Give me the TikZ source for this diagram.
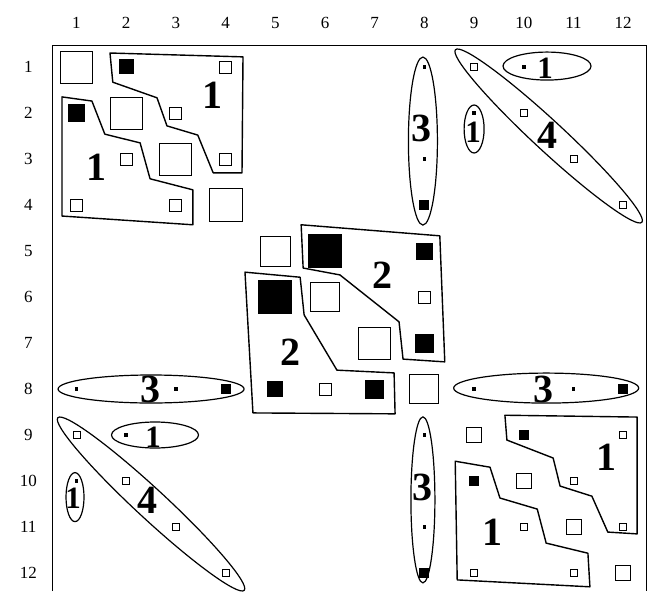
\documentclass[tikz,border=0pt]{standalone}
\usepackage{fontspec}
\setmainfont{Liberation Serif}
\begin{document}
\begin{tikzpicture}[x=49.7pt,y=-46pt,
    openSq/.style={draw=black,fill=white,line width=0.9pt,rectangle,inner sep=0pt,minimum size=#1},
    fullSq/.style={fill=black,rectangle,inner sep=0pt,minimum size=#1},
    dotPt/.style={fill=black,rectangle,inner sep=0pt,minimum size=3.5pt},
    groupLine/.style={line width=1.4pt,line join=round},
    ringLine/.style={line width=1.2pt},
    bigLabel/.style={font=\fontsize{40}{40}\selectfont\bfseries,inner sep=0pt},
    smallLabel/.style={font=\fontsize{31}{31}\selectfont\bfseries,inner sep=0pt},
    axisLabel/.style={font=\fontsize{17}{17}\selectfont,inner sep=0pt}]
    \def\frameTop{0.522}
    \def\frameBottom{12.3913}

    \useasboundingbox (-0.5392,-0.4565) rectangle (12.5593,12.3913);

    % Frame round the matrix
    \draw[line width=0.9pt] (0.507,\frameBottom) -- (0.507,\frameTop) -- (12.459,\frameTop) -- (12.459,\frameBottom);

    % Column and row numbers
    \foreach \c in {1,...,12}
        \node[axisLabel] (col\c) at (\c,0.043) {\c};
    \foreach \r in {1,...,12}
        \node[axisLabel] (row\r) at (0.03,\r) {\r};

    % Groups drawn as polygons
    \draw[groupLine] (1.674,0.696) -- (4.35,0.78) -- (4.33,3.30) -- (3.75,3.30) -- (3.44,2.48)
        -- (2.82,2.28) -- (2.62,1.67) -- (1.73,1.33) -- cycle;
    \draw[groupLine] (0.708,1.65) -- (1.31,1.74) -- (1.57,2.46) -- (2.28,2.65) -- (2.48,3.43)
        -- (3.34,3.67) -- (3.34,4.43) -- (0.708,4.24) -- cycle;
    \draw[groupLine] (5.52,4.43) -- (8.31,4.67) -- (8.41,7.41) -- (7.57,7.35) -- (7.49,6.54)
        -- (6.30,5.52) -- (5.56,5.37) -- cycle;
    \draw[groupLine] (4.39,5.46) -- (5.50,5.57) -- (5.58,6.39) -- (6.24,7.59) -- (7.39,7.65)
        -- (7.41,8.54) -- (4.55,8.52) -- cycle;
    \draw[groupLine] (9.62,8.57) -- (12.28,8.61) -- (12.28,11.15) -- (11.69,11.11) -- (11.37,10.33)
        -- (10.73,10.11) -- (10.59,9.50) -- (9.66,9.11) -- cycle;
    \draw[groupLine] (8.62,9.57) -- (9.32,9.70) -- (9.52,10.37) -- (10.27,10.61) -- (10.45,11.35)
        -- (11.29,11.57) -- (11.33,12.30) -- (8.66,12.15) -- cycle;

    % Groups drawn as ellipses
    \draw[ringLine] (7.97,2.61) ellipse [x radius=14.5pt, y radius=84pt];
    \draw[ringLine] (7.97,10.41) ellipse [x radius=12pt, y radius=83pt];
    \draw[ringLine] (9,2.348) ellipse [x radius=10pt, y radius=24pt];
    \draw[ringLine] (0.97,10.35) ellipse [x radius=9pt, y radius=24.5pt];
    \draw[ringLine] (10.467,0.98) ellipse [x radius=44pt, y radius=14pt];
    \draw[ringLine] (2.58,9.0) ellipse [x radius=43.5pt, y radius=13pt];
    \draw[ringLine] (2.5,8) ellipse [x radius=93pt, y radius=14pt];
    \draw[ringLine] (10.45,7.98) ellipse [x radius=92.5pt, y radius=15pt];
    \draw[ringLine,rotate around={-42.8:(10.5,2.5)}] (10.5,2.5) ellipse [x radius=127pt, y radius=15pt];
    \draw[ringLine,rotate around={-42.8:(2.5,10.5)}] (2.5,10.5) ellipse [x radius=127pt, y radius=15pt];

    % Open squares: column/row/size
    \foreach \c/\r/\s in {1/1/32, 4/1/12, 2/2/32, 3/2/12, 2/3/12, 3/3/32, 4/3/12, 1/4/12, 3/4/12, 4/4/33,
                         5/5/30, 6/6/29, 8/6/12, 7/7/32, 6/8/12, 8/8/29,
                         9/1/7, 10/2/7, 11/3/7, 12/4/7, 1/9/7, 2/10/7, 3/11/7, 4/12/7,
                         9/9/15, 10/10/15, 11/11/15, 12/12/15, 12/9/7, 11/10/7, 10/11/7, 12/11/7, 9/12/7, 11/12/7}
        \node[openSq=\s pt] (open-\c-\r) at (\c,\r) {};

    % Filled squares: column/row/size
    \foreach \c/\r/\s in {2/1/15, 1/2/17, 6/5/34, 8/5/17, 5/6/34, 8/7/19, 5/8/16, 7/8/19,
                         8/4/10, 4/8/10, 10/9/10, 9/10/10, 8/12/10, 12/8/10}
        \node[fullSq=\s pt] (full-\c-\r) at (\c,\r) {};

    % Dots
    \foreach \c/\r in {8/1, 8/3, 10/1, 9/2, 1/8, 3/8, 2/9, 1/10, 8/9, 8/11, 9/8, 11/8}
        \node[dotPt] (dot-\c-\r) at (\c,\r) {};

    % Group numbers
    \node[bigLabel] (tlUpper) at (3.73,1.61) {1};
    \node[bigLabel] (tlLower) at (1.41,3.17) {1};
    \node[bigLabel] (midUpper) at (7.15,5.52) {2};
    \node[bigLabel] (midLower) at (5.30,7.20) {2};
    \node[bigLabel] (brUpper) at (11.67,9.48) {1};
    \node[bigLabel] (brLower) at (9.38,11.11) {1};
    \node[bigLabel] (colTop) at (7.95,2.33) {3};
    \node[bigLabel] (colBottom) at (7.97,10.15) {3};
    \node[bigLabel] (rowLeft) at (2.48,8.02) {3};
    \node[bigLabel] (rowRight) at (10.4,8.0) {3};
    \node[bigLabel] (diagTop) at (10.47,2.48) {4};
    \node[bigLabel] (diagBottom) at (2.42,10.41) {4};
    \node[smallLabel] (ovalTop) at (10.43,1.02) {1};
    \node[smallLabel] (ovalBottom) at (2.54,9.04) {1};
    \node[smallLabel] (ringTop) at (8.98,2.41) {1};
    \node[smallLabel] (ringBottom) at (0.93,10.37) {1};

\end{tikzpicture}
\end{document}
